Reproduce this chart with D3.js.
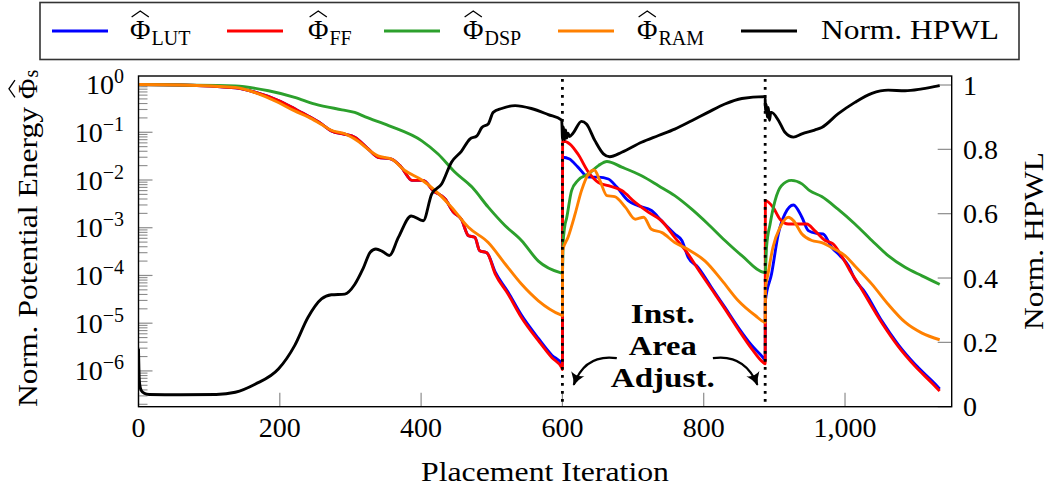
<!DOCTYPE html>
<html><head><meta charset="utf-8">
<script src="https://cdn.jsdelivr.net/npm/d3@7"></script>
<style>
body{margin:0;background:#fff}
svg{display:block}
</style>
</head><body>
<svg id="c" width="1052" height="493" font-family="Liberation Serif, DejaVu Serif, serif"></svg>
<script>
// ---------------- data ----------------
const lut = [[0,1.0],[60,0.98],[137,0.85],[165,0.69],[198,0.46],[221,0.31],[240,0.22],[259,0.15],[273,0.107],[292,9.1e-2],[306,7.9e-2],[325,4.5e-2],[339,3.0e-2],[358,2.75e-2],[372,1.86e-2],[387,9.8e-3],[403,9.8e-3],[417,6.0e-3],[434,4.0e-3],[446,2.1e-3],[457,1.5e-3],[467,6.8e-4],[476,6.3e-4],[483,3.3e-4],[493,3.0e-4],[505,1.17e-4],[523,4.5e-5],[542,1.48e-5],[566,4.8e-6],[585,2.14e-6],[599,1.41e-6],[600,1.32e-6],
  [600.3,3.0e-2],[610,2.75e-2],[622,1.86e-2],[637,1.15e-2],[651,1.15e-2],[665,1.05e-2],[677,7.1e-3],[693,3.7e-3],[707,2.9e-3],[726,2.3e-3],[740,1.41e-3],[759,7.4e-4],[769,5.4e-4],[778,2.4e-4],[792,1.48e-4],[811,5.6e-5],[830,2.14e-5],[849,8.1e-6],[868,3.4e-6],[884,1.9e-6],[887,1.66e-6],
  [887.3,2.95e-5],[896,1.07e-4],[905.6,7.4e-4],[915,1.95e-3],[927,3.0e-3],[939,1.66e-3],[948,8.7e-4],[960,7.6e-4],[969,7.4e-4],[981,3.9e-4],[993,2.6e-4],[1005,1.58e-4],[1014,8.3e-5],[1028,4.5e-5],[1052,1.12e-5],[1075,3.6e-6],[1099,1.38e-6],[1123,6.2e-7],[1134,4.2e-7]];

const ff = [[0,1.0],[60,0.98],[137,0.85],[165,0.69],[198,0.46],[221,0.31],[240,0.22],[259,0.15],[273,0.107],[292,9.1e-2],[306,7.9e-2],[325,4.5e-2],[339,3.0e-2],[358,2.75e-2],[372,1.86e-2],[387,9.8e-3],[403,9.8e-3],[417,6.0e-3],[434,4.0e-3],[446,2.1e-3],[457,1.5e-3],[467,6.8e-4],[476,6.3e-4],[483,3.3e-4],[493,3.0e-4],[505,1.07e-4],[523,4.1e-5],[542,1.32e-5],[566,4.3e-6],[585,1.9e-6],[599,1.17e-6],[600,1.07e-6],
  [600.3,6.6e-2],[611,5.6e-2],[622,3.5e-2],[637,1.45e-2],[651,8.9e-3],[665,7.6e-3],[684,6.0e-3],[703,3.4e-3],[722,2.1e-3],[740,1.41e-3],[759,6.3e-4],[778,2.8e-4],[792,1.35e-4],[811,5.2e-5],[830,2.0e-5],[849,7.4e-6],[868,2.9e-6],[884,1.51e-6],[887,1.41e-6],
  [887.3,3.7e-3],[898,2.7e-3],[908,1.51e-3],[920,1.2e-3],[934,1.2e-3],[946,1.2e-3],[957,8.7e-4],[972,5.4e-4],[983,4.6e-4],[995,2.6e-4],[1007,1.26e-4],[1019,6.6e-5],[1052,1.02e-5],[1075,3.3e-6],[1099,1.26e-6],[1123,5.6e-7],[1134,3.8e-7]];

const dsp = [[0,1.0],[137,0.93],[184,0.74],[221,0.54],[250,0.39],[288,0.295],[306,0.26],[321,0.21],[354,0.138],[401,6.6e-2],[424,3.5e-2],[448,1.45e-2],[472,7.1e-3],[495,2.7e-3],[519,1.1e-3],[542,5.4e-4],[566,2.0e-4],[597,1.15e-4],[600,1.12e-4],
  [601,4.5e-4],[603,1.0e-3],[606,1.6e-3],[613,6.0e-3],[622,9.8e-3],[637,1.35e-2],[651,2.0e-2],[663,2.45e-2],[684,1.86e-2],[712,1.23e-2],[736,7.6e-3],[759,4.7e-3],[783,2.45e-3],[806,1.2e-3],[830,5.4e-4],[854,2.6e-4],[887,1.15e-4],
  [889,4.0e-4],[894,1.2e-3],[901,3.7e-3],[910,7.6e-3],[924,9.8e-3],[939,8.3e-3],[950,6.0e-3],[967,4.5e-3],[990,2.45e-3],[1014,1.2e-3],[1038,5.4e-4],[1061,2.6e-4],[1085,1.48e-4],[1109,9.8e-5],[1134,6.5e-5]];

const ram = [[0,1.0],[60,0.98],[137,0.87],[165,0.68],[198,0.42],[221,0.28],[240,0.21],[259,0.145],[273,0.11],[292,9.3e-2],[306,7.2e-2],[339,3.2e-2],[358,2.75e-2],[377,1.58e-2],[401,1.0e-2],[420,6.0e-3],[443,2.7e-3],[467,1.02e-3],[495,4.9e-4],[519,1.74e-4],[542,6.6e-5],[566,2.95e-5],[597,1.51e-5],[600,1.45e-5],
  [600.3,3.3e-4],[608,6.3e-4],[618,1.95e-3],[627,6.0e-3],[637,1.35e-2],[645,1.62e-2],[653,9.8e-3],[663,4.7e-3],[674,4.5e-3],[689,2.7e-3],[703,1.51e-3],[715,1.66e-3],[726,9.3e-4],[741,7.9e-4],[759,4.9e-4],[778,3.5e-4],[802,2.0e-4],[826,7.8e-5],[849,2.95e-5],[873,1.45e-5],[887,1.05e-5],
  [887.3,5.0e-5],[891,1.07e-4],[898,3.9e-4],[908,1.02e-3],[920,1.66e-3],[927,1.41e-3],[939,7.4e-4],[953,5.4e-4],[967,4.9e-4],[986,3.5e-4],[1000,2.6e-4],[1014,1.58e-4],[1038,6.6e-5],[1061,2.5e-5],[1085,1.05e-5],[1109,6.2e-6],[1134,4.5e-6]];

const hpwl = [[0,0.18],[1,0.09],[2,0.065],[4,0.05],[8,0.042],[15,0.038],[60,0.037],[110,0.038],[137,0.045],[165,0.07],[198,0.117],[221,0.19],[240,0.278],[259,0.335],[273,0.348],[292,0.35],[306,0.38],[318,0.43],[328,0.48],[336,0.49],[345,0.483],[355,0.47],[368,0.527],[386,0.593],[403,0.578],[415,0.661],[429,0.692],[443,0.76],[457,0.794],[469,0.832],[479,0.842],[486,0.868],[495,0.879],[502,0.915],[514,0.927],[533,0.936],[556,0.927],[580,0.908],[599,0.891],
  [600.3,0.83],[601.5,0.87],[603,0.83],[604.5,0.86],[606,0.835],[608,0.85],[610,0.84],[615,0.85],[627,0.887],[634,0.879],[646,0.827],[658,0.786],[667,0.777],[684,0.791],[712,0.822],[736,0.843],[759,0.863],[783,0.889],[806,0.915],[830,0.941],[854,0.958],[887,0.964],
  [887.3,0.92],[888.5,0.94],[890,0.9],[891.5,0.93],[893,0.89],[895,0.915],[896,0.915],[906,0.889],[915,0.853],[927,0.838],[939,0.848],[957,0.86],[967,0.868],[990,0.91],[1014,0.946],[1038,0.974],[1061,0.984],[1085,0.982],[1109,0.988],[1134,0.998]];

const xTicks = [0,200,400,600,800,1000];
const yLeftTicks = [1e0,1e-1,1e-2,1e-3,1e-4,1e-5,1e-6];
const yLeftExps = ["0","\u22121","\u22122","\u22123","\u22124","\u22125","\u22126"];
const yRightTicks = [0,0.2,0.4,0.6,0.8,1];
const yRightLabels = ["0","0.2","0.4","0.6","0.8","1"];
const resets = [600,887];
const legendSubs = ["LUT","FF","DSP","RAM"];
const hpwlName = "Norm. HPWL";
const colors = ["#0000ff","#ff0000","#2ca02c","#ff8000","#000000"];
const annotationLines = ["Inst.","Area","Adjust."];

// ---------------- layout ----------------
const FONT = "Liberation Serif, DejaVu Serif, serif";
const LW = 2.9;
const svg = d3.select("#c");
const P = {l:138.5, r:951.7, t:76, b:406.7};
const x = d3.scaleLinear().domain([0,1151]).range([P.l,P.r]);
const yL = d3.scaleLog().domain([1.78e-7,1.51]).range([P.b,P.t]);
const yR = d3.scaleLinear().domain([0,1.028]).range([P.b,P.t]);
const defs = svg.append("defs");
defs.append("clipPath").attr("id","clip")
  .append("rect").attr("x",P.l).attr("y",P.t).attr("width",P.r-P.l).attr("height",P.b-P.t);
const tickCol = "#8c8c8c";
function T(sel){ return sel.attr("font-family",FONT).attr("fill","#000"); }

// hat-Phi helper: text Φ plus a wide hat stroke above it
function hatPhi(g, xPos, yBase, size){
  const t = T(g.append("text")).attr("x",xPos).attr("y",yBase).attr("font-size",size).text("\u03A6");
  const w = t.node().getComputedTextLength();
  const top = yBase - size*0.68;
  g.append("path").attr("d",`M${xPos+w*0.08},${top-3} L${xPos+w*0.5},${top-9} L${xPos+w*0.92},${top-3}`)
    .attr("fill","none").attr("stroke","#000").attr("stroke-width",1.3);
  return w;
}

// x ticks (inward)
svg.append("g").selectAll("line").data(xTicks).join("line")
  .attr("x1",d=>x(d)).attr("x2",d=>x(d)).attr("y1",P.b).attr("y2",P.b-14)
  .attr("stroke",tickCol).attr("stroke-width",1.2);
T(svg.append("g").selectAll("text").data(xTicks).join("text"))
  .attr("x",d=>x(d)).attr("y",P.b+30.5).attr("text-anchor","middle")
  .attr("font-size",28).text(d=>d3.format(",")(d));

// left log ticks
const minor = [];
for (let n=-7;n<=0;n++) for (let k=2;k<=9;k++){const v=k*Math.pow(10,n); if(v>=yL.domain()[0]&&v<=yL.domain()[1]) minor.push(v);}
svg.append("g").selectAll("line").data(minor).join("line")
  .attr("x1",P.l).attr("x2",P.l+9).attr("y1",d=>yL(d)).attr("y2",d=>yL(d))
  .attr("stroke",tickCol).attr("stroke-width",1.1);
svg.append("g").selectAll("line").data(yLeftTicks).join("line")
  .attr("x1",P.l).attr("x2",P.l+14).attr("y1",d=>yL(d)).attr("y2",d=>yL(d))
  .attr("stroke",tickCol).attr("stroke-width",1.2);
const lt = T(svg.append("g").selectAll("text").data(yLeftTicks).join("text"))
  .attr("x",124).attr("y",d=>yL(d)+9.5).attr("text-anchor","end").attr("font-size",28);
lt.append("tspan").text("10");
lt.append("tspan").attr("font-size",20).attr("dy",-11).text((d,i)=>yLeftExps[i]);

// right ticks
svg.append("g").selectAll("line").data(yRightTicks).join("line")
  .attr("x1",P.r).attr("x2",P.r-14).attr("y1",d=>yR(d)).attr("y2",d=>yR(d))
  .attr("stroke",tickCol).attr("stroke-width",1.2);
T(svg.append("g").selectAll("text").data(yRightTicks).join("text"))
  .attr("x",963).attr("y",d=>yR(d)+9.5).attr("font-size",28).text((d,i)=>yRightLabels[i]);

// series
const lineL = d3.line().x(d=>x(d[0])).y(d=>yL(d[1])).curve(d3.curveMonotoneX);
const lineR = d3.line().x(d=>x(d[0])).y(d=>yR(d[1])).curve(d3.curveMonotoneX);
const plot = svg.append("g").attr("clip-path","url(#clip)");
[lut,ff,dsp,ram].forEach((s,i)=>{
  plot.append("path").attr("d",lineL(s)).attr("fill","none").attr("stroke",colors[i])
    .attr("stroke-width",LW).attr("stroke-linejoin","round");
});
plot.append("path").attr("d",lineR(hpwl)).attr("fill","none").attr("stroke",colors[4])
  .attr("stroke-width",LW).attr("stroke-linejoin","round");

// reset markers (dotted)
svg.append("g").selectAll("line").data(resets).join("line")
  .attr("x1",d=>x(d)).attr("x2",d=>x(d)).attr("y1",P.t+3).attr("y2",P.b)
  .attr("stroke","#000").attr("stroke-width",2.8).attr("stroke-dasharray","2.8 5.2");

// frame
svg.append("rect").attr("x",P.l).attr("y",P.t).attr("width",P.r-P.l).attr("height",P.b-P.t)
  .attr("fill","none").attr("stroke","#000").attr("stroke-width",1.4);

// annotation (data coordinates via right-axis scale)
const annX = 742;
const annY = [0.261,0.161,0.061];
T(svg.append("g").selectAll("text").data(annotationLines).join("text"))
  .attr("x",x(annX)).attr("y",(d,i)=>yR(annY[i])).attr("text-anchor","middle")
  .attr("font-size",28).attr("font-weight","bold")
  .attr("textLength",(d,i)=>[64,68,104][i]).attr("lengthAdjust","spacingAndGlyphs").text(d=>d);
defs.append("marker").attr("id","ah").attr("markerUnits","userSpaceOnUse")
  .attr("markerWidth",18).attr("markerHeight",18).attr("refX",12).attr("refY",7)
  .attr("orient","auto").attr("viewBox","0 0 18 14")
  .append("path").attr("d","M0,0 Q6,5 13,7 Q6,9 0,14 Q4,7 0,0 Z").attr("fill","#000");
const arrows = [[[677,0.151],[632,0.165],[616,0.068]],[[813,0.151],[858,0.165],[876,0.068]]];
svg.append("g").selectAll("path").data(arrows).join("path")
  .attr("d",a=>`M${x(a[0][0])},${yR(a[0][1])} Q${x(a[1][0])},${yR(a[1][1])} ${x(a[2][0])},${yR(a[2][1])}`)
  .attr("fill","none").attr("stroke","#000").attr("stroke-width",2.2).attr("marker-end","url(#ah)");

// axis titles
T(svg.append("text")).attr("x",545).attr("y",481).attr("text-anchor","middle").attr("font-size",28)
  .attr("textLength",248).attr("lengthAdjust","spacingAndGlyphs").text("Placement Iteration");
const ylg = svg.append("g").attr("transform","translate(37,407) rotate(-90)");
T(ylg.append("text")).attr("x",0).attr("y",0).attr("font-size",28)
  .attr("textLength",300).attr("lengthAdjust","spacingAndGlyphs").text("Norm. Potential Energy");
const phiX = 300 + 8;
const pw = hatPhi(ylg, phiX, 0, 28);
T(ylg.append("text")).attr("x",phiX+pw+1).attr("y",1).attr("font-size",20).text("s");
T(svg.append("text")).attr("transform","translate(1043,241) rotate(-90)")
  .attr("text-anchor","middle").attr("font-size",28)
  .attr("textLength",178).attr("lengthAdjust","spacingAndGlyphs").text("Norm. HPWL");

// legend
const lg = svg.append("g");
lg.append("rect").attr("x",40).attr("y",2.5).attr("width",979).attr("height",57)
  .attr("fill","#fff").attr("stroke","#333").attr("stroke-width",1.6);
const lineStarts = [52,227,384,558,741];
const textStarts = [130,308,463,637,821];
colors.forEach((c,i)=>{
  lg.append("line").attr("x1",lineStarts[i]).attr("x2",lineStarts[i]+56).attr("y1",31).attr("y2",31)
    .attr("stroke",c).attr("stroke-width",LW);
  if (i<4){
    const w = hatPhi(lg, textStarts[i], 39, 28);
    T(lg.append("text")).attr("x",textStarts[i]+w+1).attr("y",45).attr("font-size",20).text(legendSubs[i]);
  } else {
    T(lg.append("text")).attr("x",textStarts[i]).attr("y",39).attr("font-size",28)
      .attr("textLength",178).attr("lengthAdjust","spacingAndGlyphs").text(hpwlName);
  }
});
</script>
</body></html>
